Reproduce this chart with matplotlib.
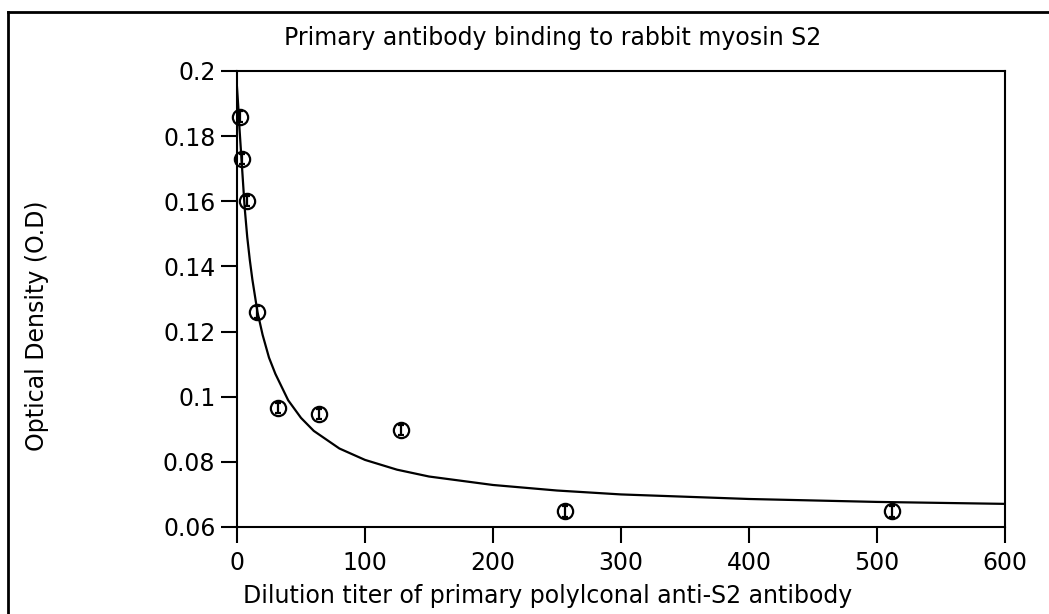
import numpy as np
import matplotlib
matplotlib.use('Agg')
import matplotlib.pyplot as plt
from matplotlib.lines import Line2D
from matplotlib.ticker import FormatStrFormatter

plt.rcParams['font.family'] = ['DejaVu Sans']

# measured points (dilution titer vs optical density)
titer = [2, 4, 8, 16, 32, 64, 128, 256, 512]
od = [0.186, 0.173, 0.160, 0.126, 0.0965, 0.0947, 0.0898, 0.0648, 0.0648]
od_err = [0.0016, 0.0016, 0.0016, 0.0018, 0.0016, 0.0016, 0.0016, 0.0016, 0.0016]

# fitted curve
fit_x = [0, 1, 2, 3, 4, 6, 8, 10, 12, 16, 20, 25, 30, 40, 50, 60, 80, 100,
         125, 150, 200, 250, 300, 400, 500, 600]
fit_y = [0.195, 0.189, 0.182, 0.176, 0.170, 0.158, 0.149, 0.142, 0.136, 0.126,
         0.119, 0.112, 0.107, 0.0989, 0.0935, 0.0895, 0.0841, 0.0806,
         0.0776, 0.0755, 0.0729, 0.0712, 0.0700, 0.0686, 0.0677, 0.0671]

xticks = [0, 100, 200, 300, 400, 500, 600]
yticks = [0.06, 0.08, 0.1, 0.12, 0.14, 0.16, 0.18, 0.2]

W, H = 1049, 614
fig = plt.figure(figsize=(W / 100, H / 100), dpi=100)
ax = fig.add_axes([237 / W, 1 - 527 / H, (1005 - 237) / W, (527 - 71) / H])

ax.plot(fit_x, fit_y, color='k', lw=1.6, zorder=2)
ax.errorbar(titer, od, yerr=od_err, fmt='o', ms=11, mfc='none', mec='k',
            mew=1.6, ecolor='k', elinewidth=1.6, capsize=2.5, capthick=1.2,
            zorder=3, clip_on=False)

ax.set_xlim(0, 600)
ax.set_ylim(0.06, 0.2)
ax.set_xticks(xticks)
ax.set_yticks(yticks)
ax.yaxis.set_major_formatter(FormatStrFormatter('%g'))
for s in ax.spines.values():
    s.set_linewidth(1.5)
ax.tick_params(direction='out', length=11.5, width=1.5, labelsize=17)
ax.tick_params(axis='y', pad=4)
ax.tick_params(axis='x', pad=6)

fig.text(553 / W, 1 - 38 / H, 'Primary antibody binding to rabbit myosin S2',
         ha='center', va='center', fontsize=17)
fig.text(548 / W, 1 - 596 / H, 'Dilution titer of primary polylconal anti-S2 antibody',
         ha='center', va='center', fontsize=17)
fig.text(37 / W, 1 - 326 / H, 'Optical Density (O.D)', rotation=90,
         ha='center', va='center', fontsize=17)

# outer frame (left and top edges visible in the picture)
fig.add_artist(Line2D([8 / W, 8 / W], [0, 1 - 12 / H], color='k', lw=2,
                      transform=fig.transFigure))
fig.add_artist(Line2D([8 / W, 1.01], [1 - 12 / H, 1 - 12 / H], color='k', lw=2,
                      transform=fig.transFigure))

fig.savefig('out.png', dpi=100)
